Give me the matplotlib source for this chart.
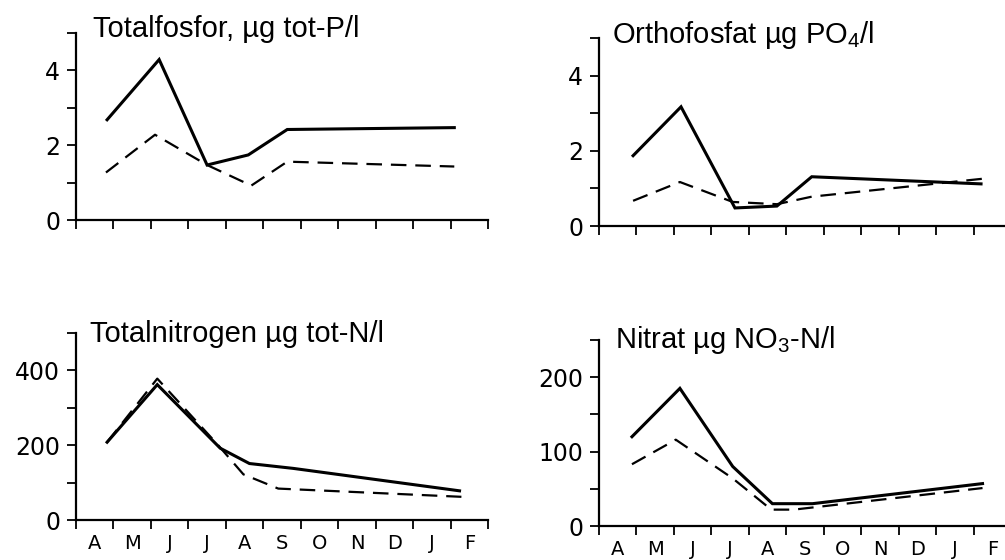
import matplotlib
matplotlib.use("Agg")
import matplotlib.pyplot as plt
from matplotlib.ticker import FixedLocator

plt.rcParams['font.family'] = ['Liberation Sans', 'DejaVu Sans']
plt.rcParams['mathtext.fontset'] = 'custom'
plt.rcParams['mathtext.rm'] = 'Liberation Sans'
plt.rcParams['mathtext.it'] = 'Liberation Sans:italic'

months = ['A', 'M', 'J', 'J', 'A', 'S', 'O', 'N', 'D', 'J', 'F']

# sample positions in month units (0 = start of April) and values
p_tot_x1 = [0.83, 2.22, 3.5, 4.6, 5.64, 10.1]
p_tot_y1 = [2.68, 4.29, 1.47, 1.74, 2.42, 2.47]
p_tot_x2 = [0.8, 2.11, 3.5, 4.68, 5.64, 10.1]
p_tot_y2 = [1.27, 2.28, 1.47, 0.92, 1.56, 1.43]

po4_x1 = [0.91, 2.19, 3.63, 4.75, 5.68, 10.2]
po4_y1 = [1.87, 3.17, 0.48, 0.53, 1.31, 1.12]
po4_x2 = [0.91, 2.16, 3.57, 4.75, 5.68, 10.37]
po4_y2 = [0.67, 1.17, 0.64, 0.58, 0.78, 1.27]

n_tot_x1 = [0.83, 2.17, 3.85, 4.63, 5.8, 10.24]
n_tot_y1 = [208, 362, 192, 151, 138, 78]
n_tot_x2 = [0.83, 2.17, 3.77, 4.47, 5.4, 10.29]
n_tot_y2 = [208, 378, 203, 122, 84, 62]

no3_x1 = [0.88, 2.16, 3.57, 4.63, 5.7, 10.24]
no3_y1 = [120, 185, 80, 30, 30, 57]
no3_x2 = [0.88, 2.05, 3.57, 4.6, 5.2, 10.24]
no3_y2 = [83, 116, 64, 22, 22, 51]

panels = [
    # rect (l, b, w, h), title, ymax, major, minor, data, months?, title pos
    ([76/1005, 340/560, 412/1005, 187/560], u'Totalfosfor, µg tot-P/l', 5,
     [0, 2, 4], [1, 3, 5], (p_tot_x1, p_tot_y1, p_tot_x2, p_tot_y2), False, (0.041, 0.979)),
    ([599/1005, 334/560, 412/1005, 188/560], u'Orthofosfat µg PO$_4$/l', 5,
     [0, 2, 4], [1, 3, 5], (po4_x1, po4_y1, po4_x2, po4_y2), False, (0.032, 0.973)),
    ([76/1005, 40/560, 412/1005, 187/560], u'Totalnitrogen µg tot-N/l', 500,
     [0, 200, 400], [100, 300, 500], (n_tot_x1, n_tot_y1, n_tot_x2, n_tot_y2), True, (0.034, 0.952)),
    ([599/1005, 34/560, 412/1005, 186/560], u'Nitrat µg NO$_3$-N/l', 250,
     [0, 100, 200], [50, 150, 250], (no3_x1, no3_y1, no3_x2, no3_y2), True, (0.039, 0.957)),
]

fig = plt.figure(figsize=(10.05, 5.6), dpi=100)

for rect, title, ymax, major, minor, data, show_months, tpos in panels:
    ax = fig.add_axes(rect)
    x1, y1, x2, y2 = data
    ax.plot(x1, y1, color='black', lw=2.2, solid_joinstyle='miter')
    ax.plot(x2, y2, color='black', lw=1.6, dashes=(7, 4))
    ax.set_xlim(0, 11)
    ax.set_ylim(0, ymax)
    ax.spines['top'].set_visible(False)
    ax.spines['right'].set_visible(False)
    ax.spines['left'].set_linewidth(1.6)
    ax.spines['bottom'].set_linewidth(1.6)
    ax.set_yticks(major)
    ax.set_yticklabels([str(v) for v in major], family='DejaVu Sans', fontsize=17)
    ax.yaxis.set_minor_locator(FixedLocator(minor))
    ax.tick_params(axis='y', which='both', direction='out', length=6.5, width=1.3, pad=5)
    ax.set_xticks(range(12))
    ax.set_xticklabels([])
    ax.tick_params(axis='x', which='major', direction='out', length=6.5, width=1.3)
    if show_months:
        ax.set_xticks([i + 0.5 for i in range(11)], minor=True)
        ax.set_xticklabels(months, minor=True, family='DejaVu Sans', fontsize=14)
        ax.tick_params(axis='x', which='minor', length=0, pad=10)
    ax.text(tpos[0], tpos[1], title, transform=ax.transAxes, fontsize=21,
            ha='left', va='baseline')
    ax.patch.set_visible(False)

plt.savefig('out.png', dpi=100)
